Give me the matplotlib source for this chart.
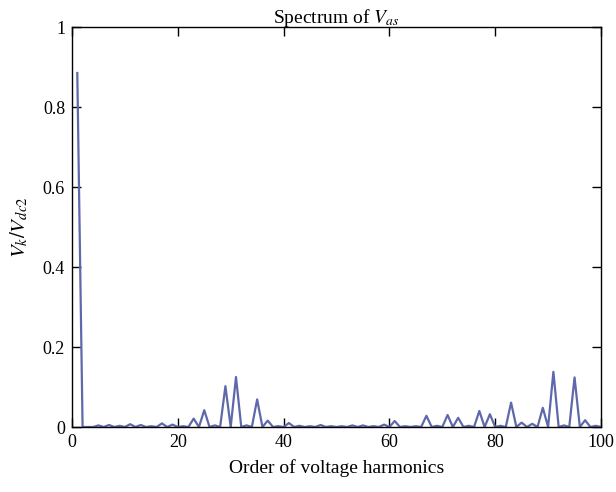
import numpy as np
import matplotlib
matplotlib.use("Agg")
import matplotlib.pyplot as plt

# odd harmonic orders and their normalised amplitudes (even ones are zero)
orders = [1, 5, 7, 9, 11, 13, 15, 17, 19, 21, 23, 25, 27, 29, 31, 33, 35, 37, 39,
          41, 43, 45, 47, 49, 51, 53, 55, 57, 59, 61, 63, 65, 67, 69, 71, 73, 75,
          77, 79, 81, 83, 85, 87, 89, 91, 93, 95, 97, 99]
amps = [0.885, 0.004, 0.005, 0.003, 0.007, 0.005, 0.002, 0.009, 0.006, 0.002,
        0.021, 0.042, 0.004, 0.102, 0.125, 0.004, 0.069, 0.016, 0.002,
        0.010, 0.003, 0.002, 0.005, 0.002, 0.002, 0.004, 0.004, 0.002, 0.006,
        0.015, 0.002, 0.002, 0.028, 0.003, 0.030, 0.023, 0.003,
        0.040, 0.032, 0.003, 0.061, 0.011, 0.008, 0.048, 0.138, 0.004,
        0.124, 0.017, 0.003]

k = np.arange(1, 101)
vk = np.zeros(len(k))
for o, a in zip(orders, amps):
    vk[o - 1] = a

plt.rcParams["font.family"] = ["Liberation Serif", "DejaVu Serif"]
plt.rcParams["mathtext.fontset"] = "stix"

fig = plt.figure(figsize=(6.16, 4.92), dpi=100)
ax = fig.add_axes([72 / 616, 1 - 427 / 492, 529 / 616, 400 / 492])

ax.plot(k, vk, color="#5f68aa", linewidth=1.6)

ax.set_xlim(0, 100)
ax.set_ylim(0, 1)
ax.set_xticks([0, 20, 40, 60, 80, 100])
ax.set_yticks([0, 0.2, 0.4, 0.6, 0.8, 1])
ax.set_yticklabels(["0", "0.2", "0.4", "0.6", "0.8", "1"])
ax.tick_params(direction="in", top=True, right=True, length=6.5, width=1,
               labelsize=13, pad=5)
for s in ax.spines.values():
    s.set_linewidth(1)

ax.set_title("Spectrum of $V_{as}$", fontsize=14, pad=3)
ax.set_xlabel("Order of voltage harmonics", fontsize=14, labelpad=6)
ax.set_ylabel("$V_k/V_{dc2}$", fontsize=15, labelpad=9)

fig.savefig("out.png", dpi=100)
